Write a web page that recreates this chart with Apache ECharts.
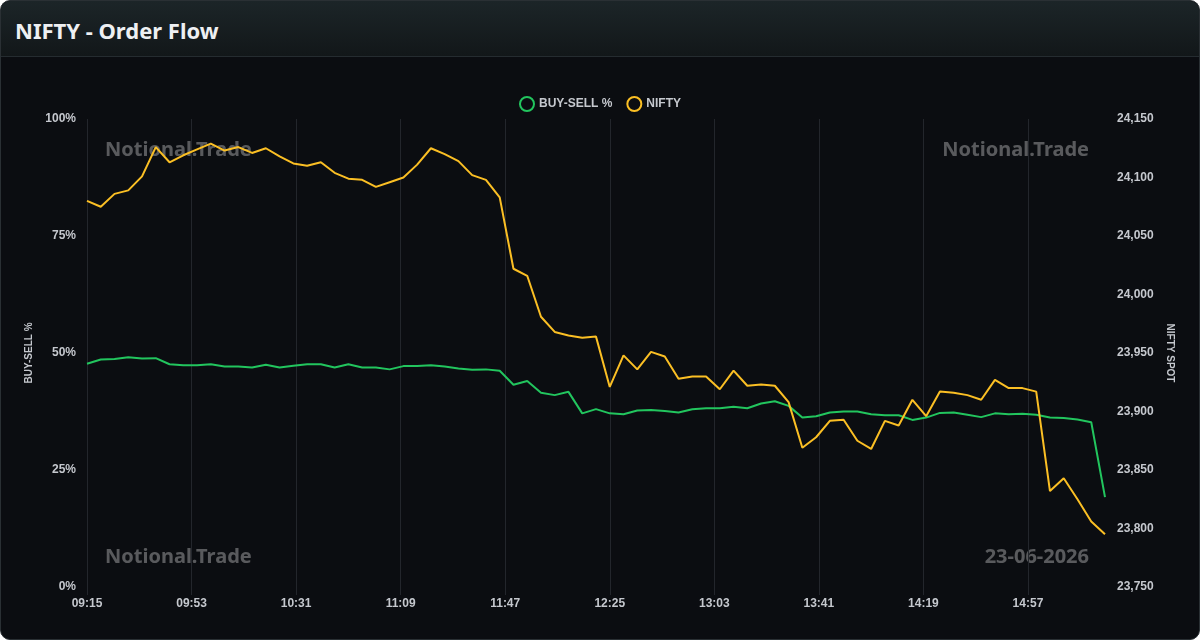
<!DOCTYPE html>
<html>
<head>
<meta charset="utf-8">
<script src="https://cdn.jsdelivr.net/npm/echarts@6/dist/echarts.min.js"></script>
<style>
  html, body { margin: 0; padding: 0; background: #ffffff; }
  #card {
    position: relative;
    width: 1198px; height: 638px;
    border: 1px solid #2a3034;
    border-radius: 10px;
    overflow: hidden;
    background: #0b0d11;
  }
  #head {
    height: 55px;
    border-bottom: 1px solid #252c30;
    background: linear-gradient(#1c2528, #121719);
    color: #eef0f2;
    font: bold 22px "Noto Sans", sans-serif;
    line-height: 58px;
    padding-left: 14px;
  }
  #chart { position: absolute; left: -1px; top: 55px; width: 1200px; height: 584px; }
</style>
</head>
<body>
<div id="card">
  <div id="head">NIFTY - Order Flow</div>
  <div id="chart"></div>
</div>
<script>
// 5 分钟一个点
const times = [
  "09:15","09:20","09:25","09:30","09:35","09:40","09:45","09:50","09:55",
  "10:00","10:05","10:10","10:15","10:20","10:25","10:30","10:35","10:40","10:45","10:50","10:55",
  "11:00","11:05","11:10","11:15","11:20","11:25","11:30","11:35","11:40","11:45","11:50","11:55",
  "12:00","12:05","12:10","12:15","12:20","12:25","12:30","12:35","12:40","12:45","12:50","12:55",
  "13:00","13:05","13:10","13:15","13:20","13:25","13:30","13:35","13:40","13:45","13:50","13:55",
  "14:00","14:05","14:10","14:15","14:20","14:25","14:30","14:35","14:40","14:45","14:50","14:55",
  "15:00","15:05","15:10","15:15","15:20","15:25"
];

const buySell = [
  47.7, 48.6, 48.7, 49.1, 48.8, 48.9, 47.6, 47.4, 47.4, 47.6,
  47.1, 47.1, 46.9, 47.5, 46.9, 47.3, 47.6, 47.6, 46.9, 47.6,
  46.9, 46.9, 46.5, 47.2, 47.2, 47.4, 47.1, 46.7, 46.4, 46.5,
  46.2, 43.2, 44.0, 41.5, 41.0, 41.7, 37.1, 38.0, 37.1, 36.9,
  37.7, 37.8, 37.6, 37.3, 38.0, 38.2, 38.2, 38.5, 38.2, 39.2,
  39.7, 38.7, 36.2, 36.5, 37.3, 37.5, 37.5, 36.9, 36.7, 36.7,
  35.7, 36.2, 37.2, 37.3, 36.8, 36.3, 37.1, 36.9, 37.0, 36.8,
  36.2, 36.1, 35.8, 35.2, 19.2
];

const nifty = [
  24080, 24075, 24086, 24089, 24101, 24126, 24113, 24119, 24124, 24129,
  24123, 24126, 24121, 24125, 24118, 24112, 24110, 24113, 24104, 24099,
  24098, 24092, 24096, 24100, 24111, 24125, 24120, 24114, 24102, 24098,
  24083, 24022, 24016, 23981, 23968, 23965, 23963, 23964, 23921, 23948,
  23936, 23951, 23947, 23928, 23930, 23930, 23919, 23935, 23922, 23923,
  23922, 23908, 23869, 23878, 23892, 23893, 23875, 23868, 23892, 23888,
  23910, 23896, 23917, 23916, 23914, 23910, 23927, 23920, 23920, 23917,
  23832, 23843, 23825, 23806, 23795
];

const pctTicks = [0, 25, 50, 75, 100];
const spotTicks = [23750, 24150];
const watermark = "Notional.Trade";
const dateText = "23-06-2026";

// 时间转成距开盘的分钟数
const toMin = t => { const p = t.split(":"); return (+p[0]) * 60 + (+p[1]) - 555; };
const fromMin = m => {
  const v = m + 555;
  return String(Math.floor(v / 60)).padStart(2, "0") + ":" + String(v % 60).padStart(2, "0");
};

const lastMin = toMin(times[times.length - 1]);
const labelFont = { color: "#c5c8ce", fontSize: 12, fontWeight: "bold", fontFamily: "Liberation Sans, Arial, sans-serif" };
const wmStyle = { fill: "rgba(255,255,255,0.32)", font: "bold 20px 'Noto Sans', sans-serif" };

const myChart = echarts.init(document.getElementById("chart"));
myChart.setOption({
  backgroundColor: "transparent",
  animation: false,
  legend: {
    top: 35,
    left: "center",
    icon: "circle",
    itemWidth: 14,
    itemHeight: 14,
    itemGap: 14,
    textStyle: { color: "#c5c8ce", fontSize: 12, fontWeight: "bold", fontFamily: "Liberation Sans, Arial, sans-serif" },
    data: [
      { name: "BUY-SELL %", itemStyle: { color: "transparent", borderColor: "#22c55e", borderWidth: 2 } },
      { name: "NIFTY", itemStyle: { color: "transparent", borderColor: "#fbbf24", borderWidth: 2 } }
    ]
  },
  grid: { left: 87, right: 95, top: 63, bottom: 53 },
  graphic: [
    { type: "text", left: 105, top: 84, z: 0, style: Object.assign({ text: watermark }, wmStyle) },
    { type: "text", right: 111, top: 84, z: 0, style: Object.assign({ text: watermark }, wmStyle) },
    { type: "text", left: 105, top: 491, z: 0, style: Object.assign({ text: watermark }, wmStyle) },
    { type: "text", right: 111, top: 491, z: 0, style: Object.assign({ text: dateText }, wmStyle) }
  ],
  xAxis: {
    type: "value",
    min: 0,
    max: lastMin,
    interval: 38,
    axisLine: { show: false },
    axisTick: { show: true, length: 8, lineStyle: { color: "#23262c" } },
    axisLabel: Object.assign({ formatter: v => fromMin(v), showMaxLabel: false, margin: 11 }, labelFont),
    splitLine: { show: true, showMaxLine: false, lineStyle: { color: "#23262c", width: 1 } }
  },
  yAxis: [
    {
      type: "value",
      min: pctTicks[0],
      max: pctTicks[pctTicks.length - 1],
      interval: 25,
      name: "BUY-SELL %",
      nameLocation: "middle",
      nameGap: 50,
      nameTextStyle: { color: "#c5c8ce", fontSize: 10, fontWeight: "bold", fontFamily: "Liberation Sans, Arial, sans-serif" },
      axisLine: { show: false },
      axisTick: { show: false },
      splitLine: { show: false },
      axisLabel: Object.assign({ formatter: "{value}%", margin: 11 }, labelFont)
    },
    {
      type: "value",
      min: spotTicks[0],
      max: spotTicks[1],
      interval: 50,
      name: "NIFTY SPOT",
      nameLocation: "middle",
      nameGap: 60,
      nameRotate: -90,
      nameTextStyle: { color: "#c5c8ce", fontSize: 10, fontWeight: "bold", fontFamily: "Liberation Sans, Arial, sans-serif" },
      axisLine: { show: false },
      axisTick: { show: false },
      splitLine: { show: false },
      axisLabel: Object.assign({ formatter: v => v.toLocaleString("en-US"), margin: 12 }, labelFont)
    }
  ],
  series: [
    {
      name: "BUY-SELL %",
      type: "line",
      yAxisIndex: 0,
      showSymbol: false,
      symbol: "none",
      z: 3,
      lineStyle: { color: "#22c55e", width: 2 },
      itemStyle: { color: "#22c55e" },
      data: times.map((t, i) => [toMin(t), buySell[i]])
    },
    {
      name: "NIFTY",
      type: "line",
      yAxisIndex: 1,
      showSymbol: false,
      symbol: "none",
      z: 3,
      lineStyle: { color: "#fbbf24", width: 2 },
      itemStyle: { color: "#fbbf24" },
      data: times.map((t, i) => [toMin(t), nifty[i]])
    }
  ]
});
</script>
</body>
</html>
